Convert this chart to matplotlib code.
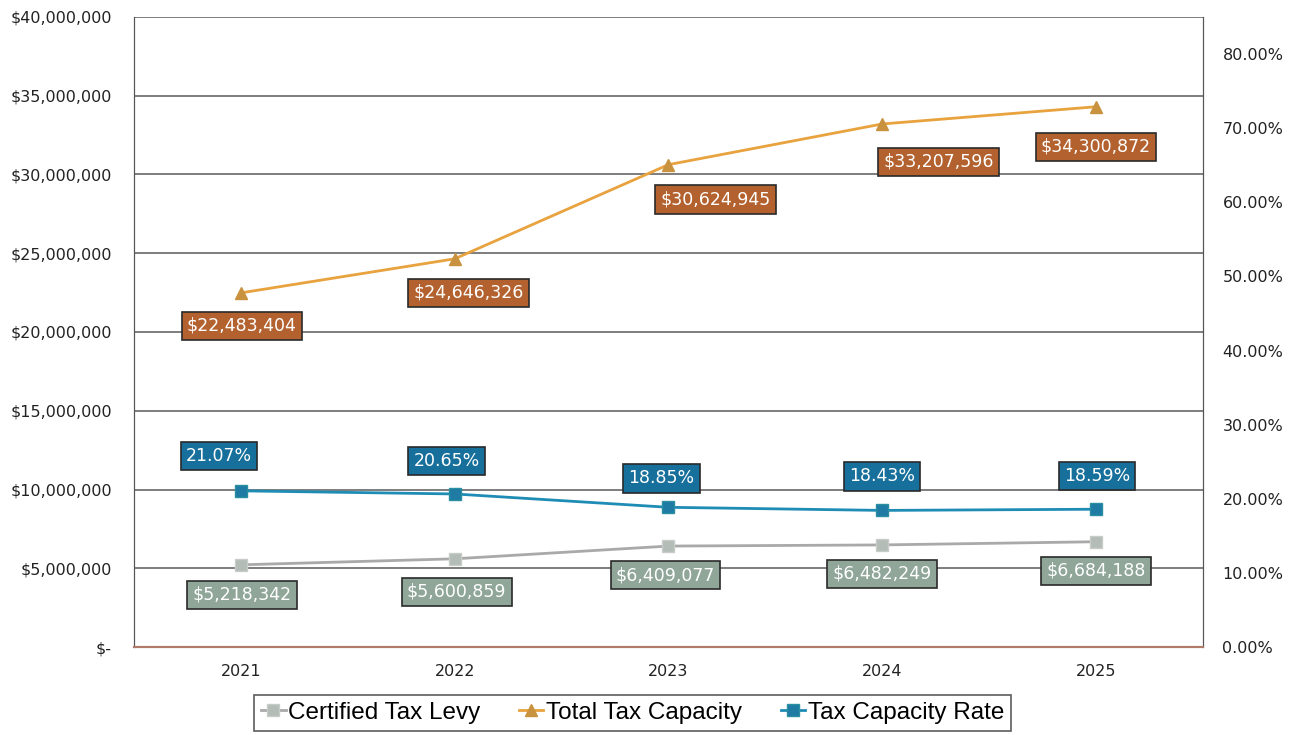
import matplotlib
matplotlib.use('Agg')
import matplotlib.pyplot as plt
from matplotlib.ticker import FuncFormatter, MultipleLocator

years = ['2021', '2022', '2023', '2024', '2025']
levy = [5218342, 5600859, 6409077, 6482249, 6684188]
capacity = [22483404, 24646326, 30624945, 33207596, 34300872]
rate = [21.07, 20.65, 18.85, 18.43, 18.59]

# label offsets in pixels (dx, dy) from each point
cap_off = [(1, -33), (14, -34), (47, -35), (56, -38), (0, -40)]
levy_off = [(1, -30), (2, -33), (-3, -29), (0, -29), (0, -29)]
rate_off = [(-22, 35), (-8, 33), (-7, 29), (0, 34), (1, 33)]

fig = plt.figure(figsize=(12.91, 7.35), dpi=100)
ax = fig.add_axes([0.1038, 0.1197, 0.8280, 0.8572])
ax2 = ax.twinx()

x = list(range(len(years)))
ax.set_xlim(-0.5, len(years) - 0.5)
ax.set_ylim(0, 40000000)
ax2.set_ylim(0, 85)

ax.yaxis.set_major_locator(MultipleLocator(5000000))
ax.yaxis.set_major_formatter(FuncFormatter(lambda v, p: '$-' if v == 0 else '${:,.0f}'.format(v)))
ax2.yaxis.set_major_locator(MultipleLocator(10))
ax2.yaxis.set_major_formatter(FuncFormatter(lambda v, p: '{:.2f}%'.format(v)))
ax.set_xticks(x)
ax.set_xticklabels(years)

ax.grid(axis='y', color='#5a5a5a', linewidth=1.1)
ax.set_axisbelow(True)
ax.tick_params(axis='y', length=0, pad=16, labelsize=11.5, colors='#222222')
ax.tick_params(axis='x', length=0, pad=12, labelsize=11.5, colors='#222222')
ax2.tick_params(axis='y', length=0, pad=14, labelsize=11.5, colors='#222222')

for a in (ax, ax2):
    a.spines['top'].set_visible(False)
    a.spines['left'].set_color('#555555')
    a.spines['right'].set_color('#555555')
    a.spines['bottom'].set_color('#b07a6a')
    a.spines['bottom'].set_linewidth(1.5)

l1, = ax.plot(x, levy, color='#a9a9a9', linewidth=2, marker='s', markersize=8,
              markerfacecolor='#b4bcb8', markeredgecolor='#c8ccc8', label='Certified Tax Levy')
l2, = ax.plot(x, capacity, color='#e8a23e', linewidth=2, marker='^', markersize=9,
              markerfacecolor='#c8923e', markeredgecolor='#c8923e', label='Total Tax Capacity')
l3, = ax2.plot(x, rate, color='#1e8cb4', linewidth=2, marker='s', markersize=8,
               markerfacecolor='#1f7aa4', markeredgecolor='#2a8fa0', label='Tax Capacity Rate')

px = 0.72  # points per pixel at 100 dpi


def tag(axis, xi, yi, text, off, face):
    axis.annotate(text, (xi, yi), xytext=(off[0] * px, off[1] * px),
                  textcoords='offset points', ha='center', va='center',
                  fontsize=12.5, color='white', zorder=10,
                  bbox=dict(boxstyle='square,pad=0.3', facecolor=face,
                            edgecolor='#2a2a2a', linewidth=1.2))


for i in x:
    tag(ax, i, capacity[i], '${:,}'.format(capacity[i]), cap_off[i], '#b3622f')
    tag(ax, i, levy[i], '${:,}'.format(levy[i]), levy_off[i], '#8fa699')
    tag(ax2, i, rate[i], '{:.2f}%'.format(rate[i]), rate_off[i], '#176f9c')

leg = fig.legend(handles=[l1, l2, l3], loc='upper center', bbox_to_anchor=(0.49, 0.055),
                 ncol=3, frameon=True, handlelength=1.0, handletextpad=0.1,
                 columnspacing=1.6, borderpad=0.3, borderaxespad=0, fancybox=False,
                 prop={'family': 'Liberation Sans', 'size': 17.5})
leg.get_frame().set_edgecolor('#333333')
leg.get_frame().set_linewidth(1.2)

fig.savefig('out.png', dpi=100)
